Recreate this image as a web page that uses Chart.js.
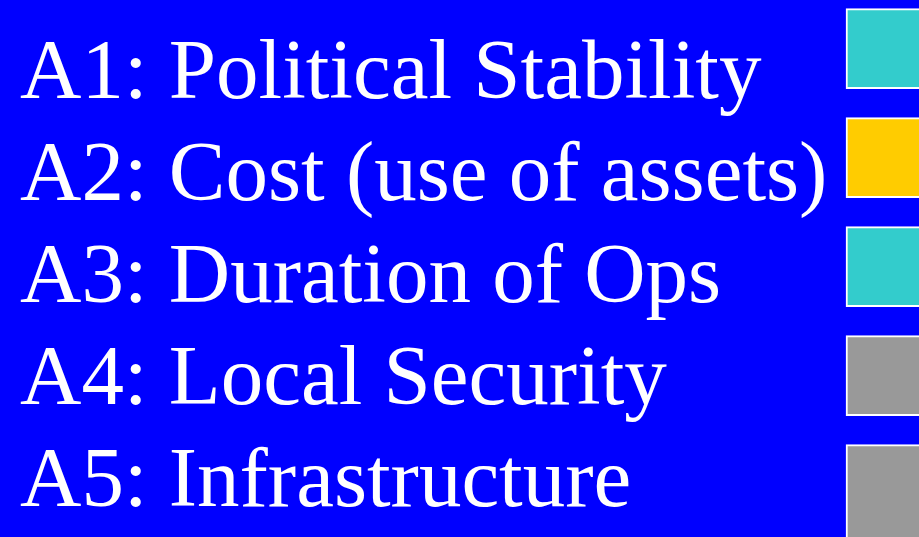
<!DOCTYPE html>
<html>
<head>
<meta charset="utf-8">
<script src="https://cdn.jsdelivr.net/npm/chart.js@4/dist/chart.umd.min.js"></script>
<style>
  html, body { margin: 0; padding: 0; background: #0000ff; overflow: hidden; }
  #chart { display: block; }
</style>
</head>
<body>
<canvas id="chart" width="919" height="537"></canvas>
<script>
// assessment factors, listed top to bottom
const factors = [
  "A1: Political Stability",
  "A2: Cost (use of assets)",
  "A3: Duration of Ops",
  "A4: Local Security",
  "A5: Infrastructure"
];
// rating shown in the status cell of each row
const ratings = ["favourable", "caution", "favourable", "neutral", "neutral"];
// row index of each status cell
const rows = [0, 1, 2, 3, 4];

const ratingColours = {
  favourable: "#33cccc",
  caution: "#ffcc00",
  neutral: "#999999"
};

// status cells sit on the right edge; each spans part of its row,
// the last one runs off the bottom of the slide
const HALF = 0.367;
const STATUS_X = 100;
const last = rows.length - 1;
const cells = rows.map(r => ({ x: STATUS_X, y: [r - HALF, r === last ? r + 1 : r + HALF] }));

new Chart(document.getElementById("chart"), {
  type: "bar",
  data: {
    labels: factors,
    datasets: [{
      yAxisID: "yc",
      data: cells,
      backgroundColor: ratings.map(r => ratingColours[r]),
      borderColor: "#ffffff",
      borderWidth: 2,
      borderSkipped: false,
      barThickness: 146,
      clip: false
    }]
  },
  options: {
    responsive: false,
    animation: false,
    layout: { padding: { top: 25, bottom: 2, left: 20, right: 0 } },
    plugins: { legend: { display: false }, tooltip: { enabled: false } },
    scales: {
      x: { type: "linear", display: false, offset: false, min: 0, max: 100 },
      y: {
        type: "category",
        position: "left",
        offset: true,
        grid: { display: false, drawTicks: false },
        border: { display: false },
        ticks: {
          mirror: true,
          padding: 0,
          color: "#ffffff",
          font: { family: "'Liberation Serif', 'Times New Roman', serif", size: 85, lineHeight: 0.05 }
        }
      },
      yc: {
        type: "linear",
        display: false,
        reverse: true,
        min: -0.217,
        max: 4.461
      }
    }
  }
});
</script>
</body>
</html>
